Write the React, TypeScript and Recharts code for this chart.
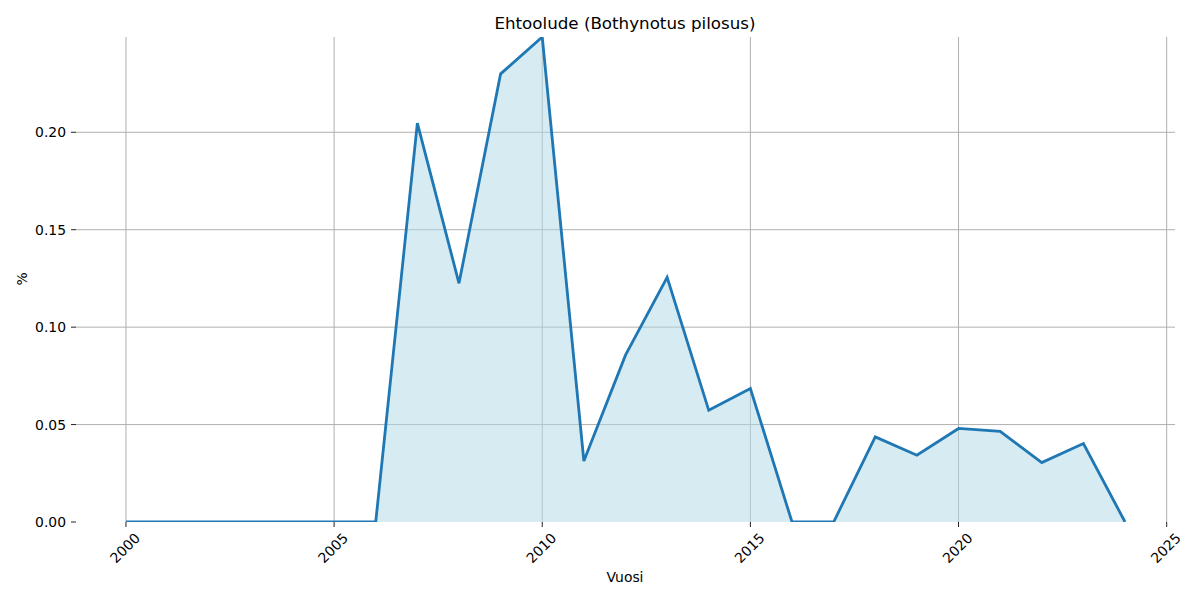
import { Area, CartesianGrid, ComposedChart, XAxis, YAxis } from "recharts";

const years = [
  2000, 2001, 2002, 2003, 2004, 2005, 2006, 2007, 2008, 2009, 2010, 2011, 2012,
  2013, 2014, 2015, 2016, 2017, 2018, 2019, 2020, 2021, 2022, 2023, 2024,
];
const shares = [
  0, 0, 0, 0, 0, 0, 0, 0.2047, 0.1225, 0.23, 0.2489, 0.0313, 0.0856, 0.1255,
  0.0573, 0.0685, 0, 0, 0.0437, 0.0343, 0.048, 0.0465, 0.0305, 0.0403, 0,
];
const xTicks = [2000, 2005, 2010, 2015, 2020, 2025];
const yTicks = [0, 0.05, 0.1, 0.15, 0.2];

const data = years.map((year, i) => ({ year, share: shares[i] }));
const yMax = Math.max(...shares);

const font = "'DejaVu Sans', sans-serif";

function YearTick(props: any) {
  const { x, payload } = props;
  const cx = x - 1;
  const cy = 548;
  return (
    <text
      x={cx}
      y={cy}
      textAnchor="middle"
      dominantBaseline="central"
      fontSize={13.9}
      fontFamily={font}
      fill="#000"
      transform={`rotate(-45, ${cx}, ${cy})`}
    >
      {payload.value}
    </text>
  );
}

export default function App() {
  return (
    <div style={{ position: "absolute", left: 0, top: 0, width: 1200, height: 600, background: "#fff", fontFamily: font }}>
      <ComposedChart
        width={1200}
        height={600}
        data={data}
        margin={{ top: 37, right: 25, bottom: 0, left: 0 }}
      >
        <CartesianGrid
          stroke="#b0b0b0"
          strokeWidth={1}
          horizontalValues={[0.05, 0.1, 0.15, 0.2]}
          verticalValues={xTicks}
        />
        <XAxis
          dataKey="year"
          type="number"
          domain={[1998.8, 2025.2]}
          ticks={xTicks}
          allowDataOverflow
          height={78}
          axisLine={false}
          tickSize={5}
          tickLine={{ stroke: "#222", strokeWidth: 1 }}
          tick={<YearTick />}
        />
        <YAxis
          type="number"
          domain={[0, yMax]}
          ticks={yTicks}
          allowDataOverflow
          width={76}
          axisLine={false}
          tickSize={5}
          tickMargin={5}
          tickLine={{ stroke: "#222", strokeWidth: 1 }}
          tickFormatter={(v: number) => v.toFixed(2)}
          tick={{ fontSize: 13.9, fontFamily: font, fill: "#000" }}
        />
        <Area
          type="linear"
          dataKey="share"
          baseValue={0}
          stroke="#1f77b4"
          strokeWidth={2.8}
          fill="#add8e6"
          fillOpacity={0.5}
          isAnimationActive={false}
          dot={false}
          activeDot={false}
        />
      </ComposedChart>
      <div style={{ position: "absolute", left: 0, width: 1250, top: 12, textAlign: "center", fontSize: 16.7, lineHeight: "22px", color: "#000" }}>
        Ehtoolude (Bothynotus pilosus)
      </div>
      <div style={{ position: "absolute", left: 0, width: 1250, top: 569, textAlign: "center", fontSize: 13.9, lineHeight: "16px", color: "#000" }}>
        Vuosi
      </div>
      <div
        style={{
          position: "absolute",
          left: 22,
          top: 279,
          fontSize: 13.9,
          lineHeight: "16px",
          color: "#000",
          transform: "translate(-50%, -50%) rotate(-90deg)",
        }}
      >
        %
      </div>
    </div>
  );
}
